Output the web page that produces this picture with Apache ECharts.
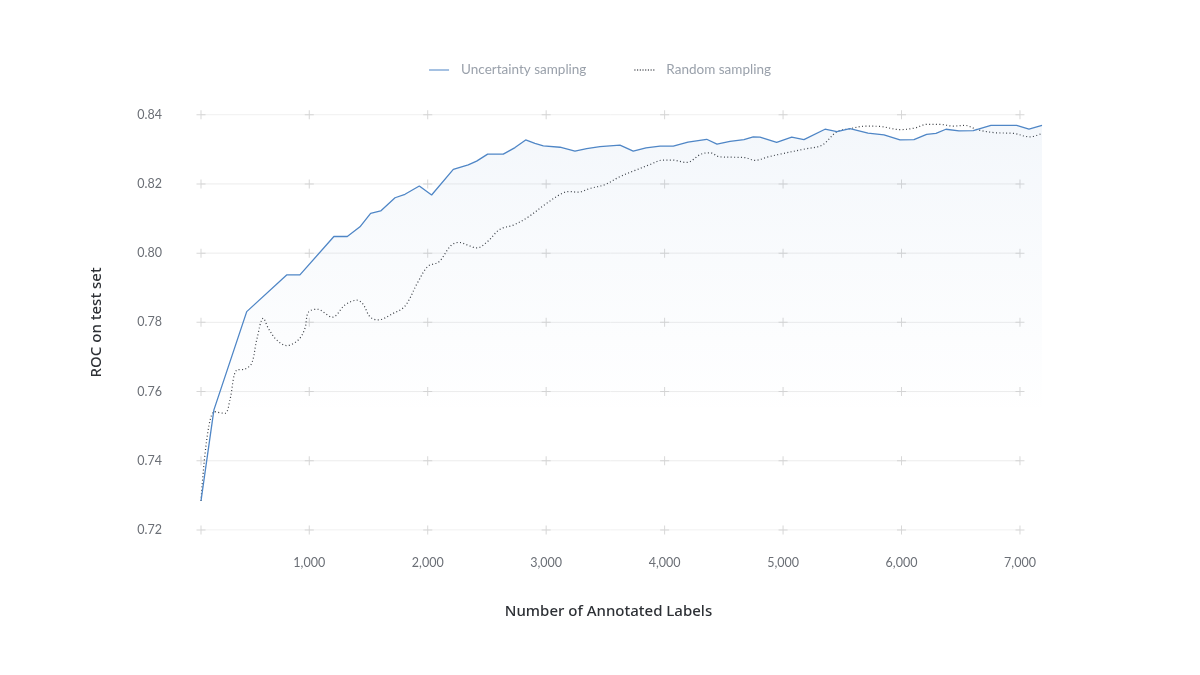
<!DOCTYPE html>
<html>
<head>
<meta charset="utf-8">
<title>ROC on test set</title>
<script src="https://cdn.jsdelivr.net/npm/echarts@6/dist/echarts.min.js"></script>
<style>
  html, body { margin: 0; padding: 0; background: #fff; }
  #chart { width: 1200px; height: 675px; }
</style>
</head>
<body>
<div id="chart"></div>
<script>
// axis ticks
const xMin = 86;
const xMax = 7186;
const xTicks = [1000, 2000, 3000, 4000, 5000, 6000, 7000];
const yTicks = [0.72, 0.74, 0.76, 0.78, 0.80, 0.82, 0.84];

// Uncertainty sampling
const uncertaintyX = [86, 195, 472, 809, 921, 1208, 1321, 1428, 1518, 1603, 1724, 1808, 1929, 2033, 2216, 2342, 2413, 2506, 2638, 2737, 2827, 2905, 2976, 3117, 3243, 3342, 3454, 3623, 3735, 3843, 3961, 4073, 4197, 4355, 4442, 4552, 4670, 4748, 4805, 4946, 5073, 5176, 5354, 5455, 5565, 5717, 5852, 5987, 6105, 6212, 6291, 6375, 6485, 6606, 6755, 6972, 7076, 7186];
const uncertaintyY = [0.7284, 0.7547, 0.7831, 0.7937, 0.7937, 0.8048, 0.8048, 0.8076, 0.8115, 0.8122, 0.8160, 0.8170, 0.8194, 0.8168, 0.8242, 0.8255, 0.8266, 0.8286, 0.8286, 0.8305, 0.8327, 0.8317, 0.8310, 0.8306, 0.8295, 0.8302, 0.8308, 0.8312, 0.8295, 0.8304, 0.8309, 0.8309, 0.8321, 0.8329, 0.8315, 0.8323, 0.8328, 0.8336, 0.8335, 0.8320, 0.8335, 0.8328, 0.8358, 0.8351, 0.8360, 0.8347, 0.8342, 0.8327, 0.8328, 0.8343, 0.8346, 0.8358, 0.8353, 0.8354, 0.8369, 0.8369, 0.8358, 0.8369];

// Random sampling
const randomX = [86, 197, 288, 330, 387, 457, 514, 556, 612, 654, 725, 809, 907, 964, 992, 1065, 1196, 1301, 1403, 1453, 1513, 1580, 1709, 1808, 1918, 2002, 2095, 2196, 2264, 2331, 2416, 2500, 2610, 2722, 2842, 3004, 3125, 3192, 3268, 3370, 3496, 3623, 3750, 3877, 3986, 4062, 4186, 4307, 4383, 4467, 4594, 4679, 4763, 4873, 4974, 5185, 5329, 5455, 5556, 5700, 5818, 5987, 6105, 6215, 6325, 6435, 6536, 6646, 6789, 6944, 7084, 7186];
const randomY = [0.7284, 0.7542, 0.7537, 0.7576, 0.7662, 0.7665, 0.7682, 0.7749, 0.7812, 0.7783, 0.7749, 0.7733, 0.7749, 0.7783, 0.7829, 0.7838, 0.7815, 0.7850, 0.7864, 0.7853, 0.7816, 0.7807, 0.7826, 0.7847, 0.7917, 0.7962, 0.7975, 0.8022, 0.8031, 0.8024, 0.8015, 0.8032, 0.8069, 0.8081, 0.8103, 0.8144, 0.8171, 0.8178, 0.8176, 0.8187, 0.8198, 0.8221, 0.8239, 0.8256, 0.8269, 0.8269, 0.8262, 0.8286, 0.8290, 0.8278, 0.8277, 0.8276, 0.8268, 0.8278, 0.8286, 0.8301, 0.8312, 0.8351, 0.8359, 0.8367, 0.8366, 0.8357, 0.8361, 0.8372, 0.8372, 0.8367, 0.8369, 0.8356, 0.8348, 0.8346, 0.8336, 0.8346];

const pairs = (xs, ys) => xs.map((x, i) => [x, ys[i]]);

// grid: faint horizontal rules from the first to the last tick column, plus "+" marks
const gridCols = [xMin].concat(xTicks);
const gridRules = yTicks.map((y) => ({
    type: 'line',
    silent: true,
    symbol: 'none',
    z: 1,
    lineStyle: { color: '#ececec', width: 1 },
    data: [[gridCols[0], y], [gridCols[gridCols.length - 1], y]]
}));
const crosses = [];
gridCols.forEach((x) => yTicks.forEach((y) => crosses.push([x, y])));

// legend icons: a solid stroke and a row of dots
const solidIcon = 'path://M0,0h20v1.4h-20z';
const dottedIcon = 'path://' + [0, 1, 2, 3, 4, 5, 6, 7].map((i) => `M${i * 2.7},0h1.1v1.4h-1.1z`).join(' ');

const chart = echarts.init(document.getElementById('chart'));

const options = {
    animation: false,
    backgroundColor: '#fff',
    legend: {
        top: 58,
        left: 'center',
        data: [
            { name: 'Uncertainty sampling', icon: solidIcon, itemStyle: { color: '#7fa6d6' } },
            { name: 'Random sampling', icon: dottedIcon, itemStyle: { color: '#55585e' } }
        ],
        selectedMode: false,
        itemWidth: 20,
        itemHeight: 1.4,
        itemGap: 48,
        textStyle: { color: '#9aa1ab', fontSize: 13.5, fontFamily: 'Lato', padding: [0, 0, 0, 7] }
    },
    grid: { left: 201, right: 158, top: 114.7, bottom: 145 },
    xAxis: {
        type: 'value',
        min: xMin,
        max: xMax,
        name: 'Number of Annotated Labels',
        nameLocation: 'middle',
        nameGap: 74,
        nameTextStyle: { color: '#2d3035', fontSize: 15, fontFamily: 'Noto Sans', fontWeight: 500, padding: [0, 26, 0, 0] },
        axisLine: { show: false },
        axisTick: { show: false },
        splitLine: { show: false },
        axisLabel: {
            customValues: xTicks,
            margin: 26,
            color: '#6b6f76',
            fontSize: 12.5,
            fontFamily: 'Lato',
            formatter: (v) => Number(v).toLocaleString('en-US')
        }
    },
    yAxis: {
        type: 'value',
        min: 0.72,
        max: 0.84,
        interval: 0.02,
        name: 'ROC on test set',
        nameLocation: 'middle',
        nameGap: 97,
        nameTextStyle: { color: '#2d3035', fontSize: 15, fontFamily: 'Noto Sans', fontWeight: 500 },
        axisLine: { show: false },
        axisTick: { show: false },
        splitLine: { show: false },
        axisLabel: {
            margin: 39,
            color: '#6b6f76',
            fontSize: 12.5,
            fontFamily: 'Lato',
            formatter: (v) => v.toFixed(2)
        }
    },
    series: gridRules.concat([
        {
            type: 'scatter',
            silent: true,
            z: 2,
            symbol: 'path://M4,0h1v9h-1z M0,4h9v1h-9z',
            symbolSize: 9,
            itemStyle: { color: '#cdcdcd' },
            data: crosses
        },
        {
            name: 'Uncertainty sampling',
            type: 'line',
            z: 4,
            symbol: 'none',
            color: '#4f86c6',
            lineStyle: { color: '#4f86c6', width: 1.3 },
            areaStyle: {
                color: new echarts.graphic.LinearGradient(0, 0, 0, 1, [
                    { offset: 0, color: 'rgba(79,134,198,0.09)' },
                    { offset: 0.72, color: 'rgba(79,134,198,0)' }
                ])
            },
            data: pairs(uncertaintyX, uncertaintyY)
        },
        {
            name: 'Random sampling',
            type: 'line',
            z: 3,
            symbol: 'none',
            smooth: 0.35,
            color: '#3a3d42',
            lineStyle: { color: '#3a3d42', width: 1.2, type: [1, 2.4] },
            data: pairs(randomX, randomY)
        }
    ])
};

chart.setOption(options);
</script>
</body>
</html>
